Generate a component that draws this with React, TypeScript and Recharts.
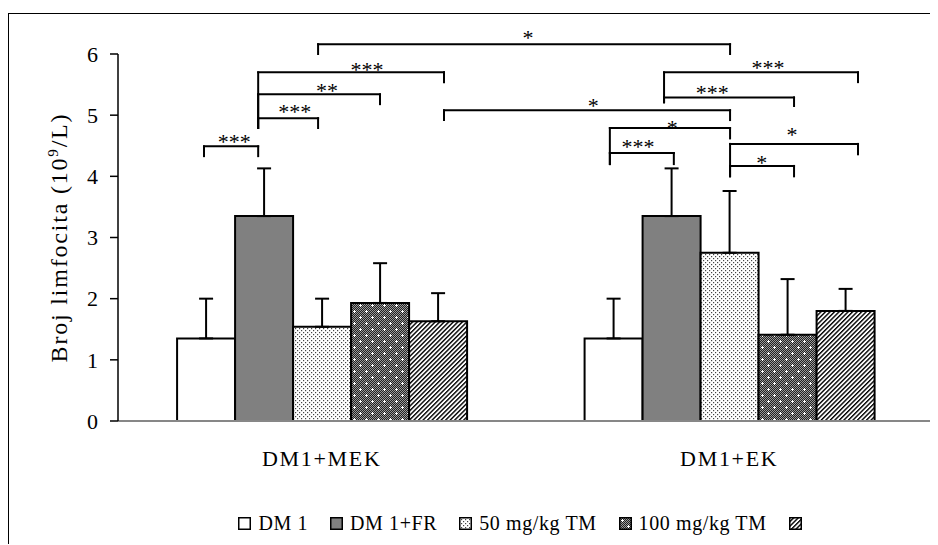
import {
  BarChart, Bar, XAxis, YAxis, ErrorBar, ReferenceLine, ReferenceDot, Legend,
} from "recharts";

const FONT = '"Liberation Serif", "Times New Roman", serif';

const CATEGORIES = ["DM1+MEK", "DM1+EK"];
const DM1 = [1.35, 1.35];
const DM1_ERR = [0.65, 0.65];
const DM1_FR = [3.35, 3.35];
const DM1_FR_ERR = [0.78, 0.78];
const MG50 = [1.54, 2.75];
const MG50_ERR = [0.46, 1.01];
const MG100 = [1.93, 1.41];
const MG100_ERR = [0.65, 0.91];
const FIFTH = [1.63, 1.8];
const FIFTH_ERR = [0.46, 0.36];
const Y_TICKS = [0, 1, 2, 3, 4, 5, 6];
const LEGEND_NAMES = ["DM 1", "DM 1+FR", "50 mg/kg TM", "100 mg/kg TM", ""];

// significance brackets; x is a fraction of the plot width (0..1), y in 10^9/L
const BRACKETS = [
  { x1: 0.1055, x2: 0.172, y: 4.49, yL: 4.33, yR: 4.33, mark: "***", mx: 0.1425, my: 4.64 },
  { x1: 0.172, x2: 0.2455, y: 4.95, yL: 4.79, yR: 4.79, mark: "***", mx: 0.217, my: 5.13 },
  { x1: 0.172, x2: 0.3215, y: 5.34, yL: 4.79, yR: 5.18, mark: "**", mx: 0.2565, my: 5.47 },
  { x1: 0.172, x2: 0.4, y: 5.7, yL: 4.79, yR: 5.54, mark: "***", mx: 0.3055, my: 5.82 },
  { x1: 0.2455, x2: 0.751, y: 6.16, yL: 6.0, yR: 6.0, mark: "*", mx: 0.503, my: 6.34 },
  { x1: 0.4, x2: 0.751, y: 5.08, yL: 4.92, yR: 4.92, mark: "*", mx: 0.583, my: 5.23 },
  { x1: 0.67, x2: 0.908, y: 5.7, yL: 5.21, yR: 5.54, mark: "***", mx: 0.7975, my: 5.85 },
  { x1: 0.67, x2: 0.8295, y: 5.29, yL: 5.21, yR: 5.15, mark: "***", mx: 0.729, my: 5.44 },
  { x1: 0.6035, x2: 0.751, y: 4.79, yL: 4.2, yR: 4.62, mark: "*", mx: 0.68, my: 4.87 },
  { x1: 0.6035, x2: 0.682, y: 4.38, yL: 4.2, yR: 4.2, mark: "***", mx: 0.638, my: 4.56 },
  { x1: 0.751, x2: 0.908, y: 4.53, yL: 4.0, yR: 4.36, mark: "*", mx: 0.827, my: 4.75 },
  { x1: 0.751, x2: 0.8295, y: 4.17, yL: 4.0, yR: 4.0, mark: "*", mx: 0.79, my: 4.3 },
];

const data = CATEGORIES.map((name, i) => ({
  name,
  dm1: DM1[i],
  dm1Err: [0, DM1_ERR[i]],
  fr: DM1_FR[i],
  frErr: [0, DM1_FR_ERR[i]],
  mg50: MG50[i],
  mg50Err: [0, MG50_ERR[i]],
  mg100: MG100[i],
  mg100Err: [0, MG100_ERR[i]],
  fifth: FIFTH[i],
  fifthErr: [0, FIFTH_ERR[i]],
}));

const SERIES = [
  { key: "dm1", err: "dm1Err", fill: "#ffffff" },
  { key: "fr", err: "frErr", fill: "#808080" },
  { key: "mg50", err: "mg50Err", fill: "url(#dots50)" },
  { key: "mg100", err: "mg100Err", fill: "url(#check100)" },
  { key: "fifth", err: "fifthErr", fill: "url(#hatch)" },
].map((s, i) => ({ ...s, name: LEGEND_NAMES[i] }));

// eslint-disable-next-line @typescript-eslint/no-explicit-any
function XTick({ x, y, payload }: any) {
  return (
    <text x={x} y={y} dy="0.71em" textAnchor="middle" fontFamily={FONT} fontSize={22} letterSpacing={1.7} fill="#000">
      {payload.value}
    </text>
  );
}

// eslint-disable-next-line @typescript-eslint/no-explicit-any
function YLabel({ viewBox }: any) {
  const cx = viewBox.x + 9;
  const cy = viewBox.y + viewBox.height / 2;
  return (
    <text
      x={cx}
      y={cy}
      transform={`rotate(-90, ${cx}, ${cy})`}
      textAnchor="middle"
      fontFamily={FONT}
      fontSize={24}
      letterSpacing={1.8}
      fill="#000"
    >
      Broj limfocita (10
      <tspan dy={-9} fontSize={15}>9</tspan>
      <tspan dy={9}>/L)</tspan>
    </text>
  );
}

function LegendRow() {
  return (
    <div
      style={{
        display: "flex", justifyContent: "center", alignItems: "center", height: 30,
        fontFamily: FONT, fontSize: 20, letterSpacing: 0.6, color: "#000", whiteSpace: "nowrap",
      }}
    >
      {SERIES.map((s, i) => (
        <span key={s.key} style={{ display: "flex", alignItems: "center", marginRight: i < SERIES.length - 1 ? 22 : 0 }}>
          <svg width={13} height={13} style={{ display: "block" }}>
            <rect x={0.75} y={0.75} width={11.5} height={11.5} fill={s.fill} stroke="#000" strokeWidth={1.5} />
          </svg>
          {s.name && <span style={{ marginLeft: 7 }}>{s.name}</span>}
        </span>
      ))}
    </div>
  );
}

export default function App() {
  return (
    <div style={{ position: "relative", top: 5, width: 930, height: 534, border: "1px solid #000" }}>
      <style>{"html,body{overflow:hidden}"}</style>
      <BarChart
        width={929}
        height={531}
        data={data}
        margin={{ top: 40, right: 5, bottom: 7, left: 49 }}
        barCategoryGap="14.5%"
        barGap={0}
      >
        <defs>
          <pattern id="dots50" width="4" height="4" patternUnits="userSpaceOnUse">
            <rect width="4" height="4" fill="#fff" />
            <rect x="0" y="0" width="1.2" height="1.2" fill="#444" />
            <rect x="2" y="2" width="1.2" height="1.2" fill="#444" />
          </pattern>
          <pattern id="fine" width="2" height="2" patternUnits="userSpaceOnUse">
            <rect width="2" height="2" fill="#9a9a9a" />
            <rect width="1" height="1" fill="#222" />
            <rect x="1" y="1" width="1" height="1" fill="#222" />
          </pattern>
          <pattern id="check100" width="12" height="12" patternUnits="userSpaceOnUse">
            <rect width="12" height="12" fill="url(#fine)" />
            <rect x="2" y="3" width="3" height="1" fill="#fff" />
            <rect x="3" y="2" width="1" height="3" fill="#fff" />
            <rect x="8" y="9" width="3" height="1" fill="#fff" />
            <rect x="9" y="8" width="1" height="3" fill="#fff" />
          </pattern>
          <pattern id="hatch" width="3.2" height="3.2" patternUnits="userSpaceOnUse" patternTransform="rotate(45)">
            <rect width="3.2" height="3.2" fill="#fff" />
            <rect width="1.4" height="3.2" fill="#000" />
          </pattern>
        </defs>
        <XAxis
          dataKey="name"
          height={87}
          interval={0}
          tickSize={0}
          tickMargin={29}
          tickLine={false}
          axisLine={{ stroke: "#878787", strokeWidth: 2 }}
          tick={<XTick />}
        />
        <XAxis xAxisId="pos" type="number" domain={[0, 1]} allowDataOverflow hide />
        <YAxis
          domain={[0, 6]}
          ticks={Y_TICKS}
          allowDataOverflow
          width={60}
          tickSize={8}
          tickMargin={12}
          axisLine={{ stroke: "#000", strokeWidth: 1.5 }}
          tickLine={{ stroke: "#000", strokeWidth: 1.5 }}
          tick={{ fontSize: 22, fill: "#000", fontFamily: FONT }}
          label={<YLabel />}
        />
        {SERIES.map((s) => (
          <Bar key={s.key} dataKey={s.key} name={s.name} fill={s.fill} stroke="#000" strokeWidth={2} isAnimationActive={false}>
            <ErrorBar dataKey={s.err} width={7} stroke="#000" strokeWidth={2} />
          </Bar>
        ))}
        {BRACKETS.flatMap((b, i) => [
          <ReferenceLine key={`h${i}`} xAxisId="pos" ifOverflow="visible" stroke="#000" strokeWidth={2} strokeLinecap="square"
            segment={[{ x: b.x1, y: b.y }, { x: b.x2, y: b.y }]} />,
          <ReferenceLine key={`l${i}`} xAxisId="pos" ifOverflow="visible" stroke="#000" strokeWidth={2} strokeLinecap="square"
            segment={[{ x: b.x1, y: b.y }, { x: b.x1, y: b.yL }]} />,
          <ReferenceLine key={`r${i}`} xAxisId="pos" ifOverflow="visible" stroke="#000" strokeWidth={2} strokeLinecap="square"
            segment={[{ x: b.x2, y: b.y }, { x: b.x2, y: b.yR }]} />,
          <ReferenceDot key={`m${i}`} xAxisId="pos" ifOverflow="visible" x={b.mx} y={b.my} r={1}
            // eslint-disable-next-line @typescript-eslint/no-explicit-any
            shape={(p: any) => (
              <text x={p.cx} y={p.cy} dy="0.53em" textAnchor="middle" fontFamily={FONT} fontSize={22} fill="#000">
                {b.mark}
              </text>
            )}
          />,
        ])}
        <Legend verticalAlign="bottom" content={<LegendRow />} wrapperStyle={{ left: 161, width: 700 }} />
      </BarChart>
    </div>
  );
}
